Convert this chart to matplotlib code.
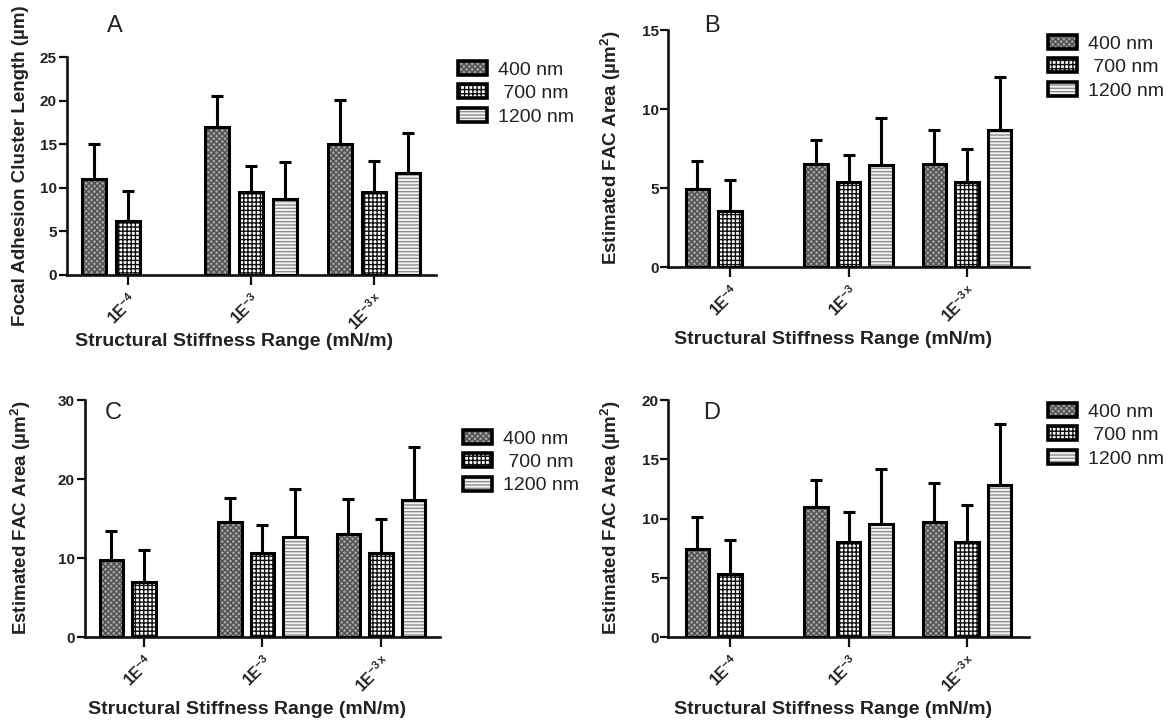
import numpy as np
import matplotlib
matplotlib.use('Agg')
import matplotlib.pyplot as plt
from matplotlib.patches import Patch
from matplotlib.legend_handler import HandlerTuple

plt.rcParams['font.family'] = ['Liberation Sans', 'DejaVu Sans']
plt.rcParams['mathtext.fontset'] = 'custom'
plt.rcParams['mathtext.rm'] = 'Liberation Sans:bold'
plt.rcParams['mathtext.bf'] = 'Liberation Sans:bold'
plt.rcParams['mathtext.it'] = 'Liberation Sans:bold'
plt.rcParams['mathtext.default'] = 'rm'
plt.rcParams['hatch.linewidth'] = 1.0

# ---------------- data ----------------
categories = ['1E$^{-4}$', '1E$^{-3}$', '1E$^{-3\\,x}$']
series = ['400 nm', ' 700 nm', '1200 nm']

# Panel A: Focal adhesion cluster length (um)
A_400 = [11.0, 17.0, 15.0]
A_400_sd = [4.1, 3.5, 5.1]
A_700 = [6.2, 9.5, 9.5]
A_700_sd = [3.5, 3.0, 3.6]
A_1200 = [np.nan, 8.7, 11.7]
A_1200_sd = [np.nan, 4.3, 4.6]

# Panel B: Estimated FAC area (um^2)
B_400 = [4.95, 6.55, 6.55]
B_400_sd = [1.8, 1.5, 2.15]
B_700 = [3.55, 5.4, 5.4]
B_700_sd = [1.95, 1.7, 2.1]
B_1200 = [np.nan, 6.45, 8.65]
B_1200_sd = [np.nan, 3.0, 3.35]

# Panel C
C_400 = [9.8, 14.6, 13.1]
C_400_sd = [3.6, 3.0, 4.4]
C_700 = [7.0, 10.7, 10.7]
C_700_sd = [4.0, 3.5, 4.2]
C_1200 = [np.nan, 12.7, 17.4]
C_1200_sd = [np.nan, 6.1, 6.6]

# Panel D
D_400 = [7.4, 11.0, 9.75]
D_400_sd = [2.7, 2.25, 3.25]
D_700 = [5.3, 8.0, 8.05]
D_700_sd = [2.9, 2.55, 3.1]
D_1200 = [np.nan, 9.55, 12.85]
D_1200_sd = [np.nan, 4.6, 5.1]

ylabel_A = 'Focal Adhesion Cluster Length (µm)'
ylabel_FAC = 'Estimated FAC Area (µm$^{2}$)'
xlabel = 'Structural Stiffness Range (mN/m)'

# ---------------- style ----------------
fills = ['#a2a2a2', 'white', '#f4f4f4']
hatch_cols = ['#505050', '#111111', '#8c8c8c']
hatches = ['xxxxxx', '++++', '-----']
txt = '#222222'

W, H = 1172, 725
fig = plt.figure(figsize=(W / 100, H / 100), dpi=100)


def add_axes_px(l, t, r, b):
    return fig.add_axes([l / W, 1 - b / H, (r - l) / W, (b - t) / H])


panels = [
    dict(letter='A', means=[A_400, A_700, A_1200], sds=[A_400_sd, A_700_sd, A_1200_sd],
         ylim=25, ystep=5, ylabel=ylabel_A, box=(66.5, 57.3, 435.5, 275), xlim=(-0.5, 2.5),
         letter_xy=(115, 26), ylab_xy=(21, 166), xlab_xy=(234, 341), leg_xy=(458, 61)),
    dict(letter='B', means=[B_400, B_700, B_1200], sds=[B_400_sd, B_700_sd, B_1200_sd],
         ylim=15, ystep=5, ylabel=ylabel_FAC, box=(668.4, 30, 1028.6, 267.3), xlim=(-0.52, 2.52),
         letter_xy=(712, 26), ylab_xy=(611, 148), xlab_xy=(833, 339), leg_xy=(1048, 35)),
    dict(letter='C', means=[C_400, C_700, C_1200], sds=[C_400_sd, C_700_sd, C_1200_sd],
         ylim=30, ystep=10, ylabel=ylabel_FAC, box=(84.7, 400, 440.2, 637.3), xlim=(-0.5, 2.5),
         letter_xy=(113, 413), ylab_xy=(21, 518), xlab_xy=(247, 710), leg_xy=(463, 430)),
    dict(letter='D', means=[D_400, D_700, D_1200], sds=[D_400_sd, D_700_sd, D_1200_sd],
         ylim=20, ystep=5, ylabel=ylabel_FAC, box=(668.4, 400, 1028.6, 637.3), xlim=(-0.52, 2.52),
         letter_xy=(712, 413), ylab_xy=(611, 518), xlab_xy=(833, 710), leg_xy=(1048, 403)),
]

offset = 0.275
width = 0.2
gx = np.arange(len(categories))

for p in panels:
    l, t, r, b = p['box']
    ax = add_axes_px(l, t, r, b)
    ax.set_xlim(*p['xlim'])
    ax.set_ylim(0, p['ylim'])
    ax.patch.set_visible(False)

    for s in range(3):
        m = np.array(p['means'][s], dtype=float)
        sd = np.array(p['sds'][s], dtype=float)
        ok = ~np.isnan(m)
        x = gx[ok] + (s - 1) * offset
        ax.errorbar(x, m[ok], yerr=[np.zeros(ok.sum()), sd[ok]], fmt='none',
                    ecolor='black', elinewidth=2.2, capsize=4.2, capthick=2.2, zorder=1.5)
        ax.bar(x, m[ok], width=width, color=fills[s], edgecolor=hatch_cols[s],
               hatch=hatches[s], linewidth=0, zorder=2)
        ax.bar(x, m[ok], width=width, fill=False, edgecolor='black', linewidth=2.2, zorder=3)

    for side in ['top', 'right']:
        ax.spines[side].set_visible(False)
    for side in ['left', 'bottom']:
        ax.spines[side].set_linewidth(1.9)
        ax.spines[side].set_color('#111111')

    ax.set_yticks(np.arange(0, p['ylim'] + 0.1, p['ystep']))
    ax.set_yticklabels([str(int(v)) for v in np.arange(0, p['ylim'] + 0.1, p['ystep'])],
                       fontweight='bold', fontsize=11, color=txt)
    ax.tick_params(axis='y', length=6, width=1.6, pad=1, color='#111111')
    ax.set_xticks(gx)
    ax.set_xticklabels(categories, rotation=45, ha='right', va='top',
                       rotation_mode='anchor', fontsize=11.5, fontweight='bold', color=txt)
    ax.tick_params(axis='x', length=7, width=1.6, pad=4, color='#111111')

    ax_h = b - t
    ax_w = r - l
    ax.set_ylabel(p['ylabel'], fontsize=13.5, fontweight='bold', color=txt)
    ax.yaxis.set_label_coords((p['ylab_xy'][0] - l) / ax_w, (b - p['ylab_xy'][1]) / ax_h)
    ax.set_xlabel(xlabel, fontsize=14, fontweight='bold', color=txt)
    ax.xaxis.set_label_coords((p['xlab_xy'][0] - l) / ax_w, (b - p['xlab_xy'][1]) / ax_h)
    ax.xaxis.label.set_va('center')
    ax.yaxis.label.set_va('center')

    fig.text(p['letter_xy'][0] / W, 1 - p['letter_xy'][1] / H, p['letter'],
             fontsize=17, color=txt, ha='center', va='center')

    handles = []
    for s in range(3):
        fill = Patch(facecolor=fills[s], edgecolor=hatch_cols[s], hatch=hatches[s], linewidth=0)
        outline = Patch(facecolor='none', edgecolor='black', linewidth=2.6, joinstyle='round')
        handles.append((fill, outline))
    ax.legend(handles, series, handler_map={tuple: HandlerTuple(ndivide=1)},
              loc='upper left', bbox_to_anchor=(p['leg_xy'][0] / W, 1 - p['leg_xy'][1] / H),
              bbox_transform=fig.transFigure, frameon=False, fontsize=14,
              handlelength=1.5, handleheight=0.7, handletextpad=0.55,
              labelspacing=0.3, borderpad=0, borderaxespad=0, labelcolor=txt)

fig.savefig('out.png', dpi=100)
